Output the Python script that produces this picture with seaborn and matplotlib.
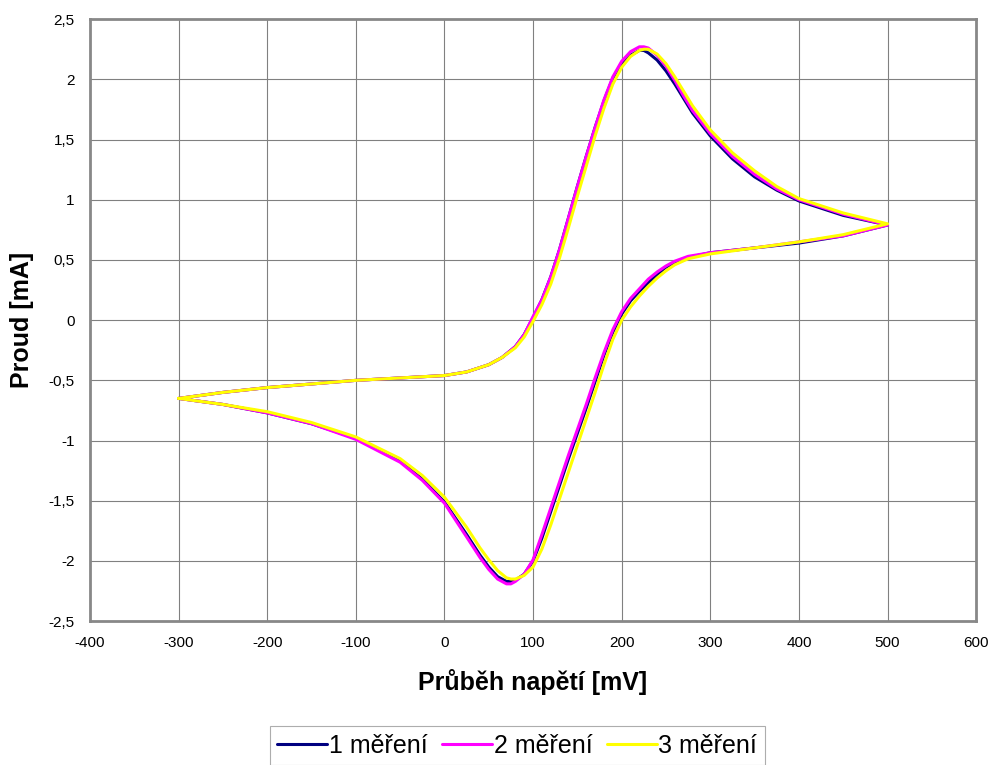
import pandas as pd
import matplotlib
matplotlib.use('Agg')
import matplotlib.pyplot as plt
import seaborn as sns

# Potential sweep: forward (-300 -> 500 mV) then reverse (500 -> -300 mV)
e_forward = [-300, -250, -200, -150, -100, -50, 0, 25, 50, 65, 80, 90, 100, 110, 120, 130,
             140, 150, 160, 170, 180, 190, 200, 210, 220, 225, 230, 240, 250, 260, 270, 280,
             300, 325, 350, 375, 400, 450, 500]
e_reverse = [500, 450, 400, 350, 300, 275, 260, 250, 240, 230, 220, 210, 200, 190, 180, 170,
             160, 150, 140, 130, 120, 110, 100, 90, 80, 75, 70, 60, 50, 40, 25, 0, -25, -50,
             -100, -150, -200, -250, -300]

# Current [mA], measurement 1
i1_forward = [-0.65, -0.60, -0.56, -0.53, -0.50, -0.48, -0.46, -0.43, -0.37, -0.31, -0.22, -0.12,
              0.02, 0.17, 0.36, 0.59, 0.85, 1.11, 1.36, 1.60, 1.82, 2.01, 2.13, 2.20, 2.24, 2.24,
              2.22, 2.16, 2.07, 1.96, 1.84, 1.72, 1.53, 1.34, 1.19, 1.08, 0.99, 0.87, 0.79]
i1_reverse = [0.79, 0.70, 0.64, 0.60, 0.56, 0.52, 0.48, 0.44, 0.38, 0.31, 0.24, 0.16, 0.05, -0.10,
              -0.29, -0.51, -0.73, -0.94, -1.15, -1.37, -1.59, -1.81, -2.00, -2.11, -2.16, -2.17,
              -2.17, -2.13, -2.05, -1.95, -1.78, -1.51, -1.32, -1.17, -0.98, -0.86, -0.77, -0.70,
              -0.65]

# measurement 2
i2_forward = [-0.65, -0.60, -0.56, -0.53, -0.50, -0.48, -0.46, -0.43, -0.37, -0.31, -0.22, -0.12,
              0.03, 0.17, 0.36, 0.59, 0.85, 1.11, 1.36, 1.60, 1.83, 2.02, 2.15, 2.23, 2.27, 2.27,
              2.26, 2.20, 2.11, 1.99, 1.86, 1.74, 1.55, 1.36, 1.21, 1.09, 1.00, 0.88, 0.79]
i2_reverse = [0.79, 0.70, 0.65, 0.60, 0.56, 0.53, 0.49, 0.45, 0.40, 0.34, 0.26, 0.18, 0.07, -0.08,
              -0.27, -0.48, -0.70, -0.91, -1.12, -1.34, -1.56, -1.78, -1.99, -2.11, -2.17, -2.19,
              -2.19, -2.15, -2.07, -1.97, -1.80, -1.52, -1.33, -1.18, -0.99, -0.86, -0.77, -0.70,
              -0.65]

# measurement 3
i3_forward = [-0.65, -0.60, -0.56, -0.53, -0.50, -0.48, -0.46, -0.43, -0.37, -0.31, -0.23, -0.14,
              -0.01, 0.13, 0.30, 0.52, 0.77, 1.03, 1.28, 1.53, 1.76, 1.96, 2.10, 2.19, 2.24, 2.25,
              2.25, 2.21, 2.13, 2.02, 1.90, 1.78, 1.58, 1.39, 1.24, 1.11, 1.01, 0.89, 0.80]
i3_reverse = [0.80, 0.71, 0.65, 0.60, 0.55, 0.51, 0.46, 0.41, 0.35, 0.28, 0.20, 0.11, 0.00, -0.16,
              -0.37, -0.60, -0.82, -1.04, -1.26, -1.48, -1.70, -1.90, -2.05, -2.12, -2.15, -2.15,
              -2.14, -2.08, -1.99, -1.89, -1.72, -1.47, -1.29, -1.15, -0.97, -0.85, -0.76, -0.70,
              -0.65]

series_names = ['1 měření', '2 měření', '3 měření']
series_colors = ['#000080', '#FF00FF', '#FFFF00']
x_ticks = [-400, -300, -200, -100, 0, 100, 200, 300, 400, 500, 600]
y_ticks = [-2.5, -2, -1.5, -1, -0.5, 0, 0.5, 1, 1.5, 2, 2.5]
y_tick_labels = ['-2,5', '-2', '-1,5', '-1', '-0,5', '0', '0,5', '1', '1,5', '2', '2,5']

# Build one long table, keeping the sweep order
rows = []
for name, fwd, rev in zip(series_names,
                          [i1_forward, i2_forward, i3_forward],
                          [i1_reverse, i2_reverse, i3_reverse]):
    for e, i in zip(e_forward + e_reverse, fwd + rev):
        rows.append({'Napětí': e, 'Proud': i, 'Měření': name})
df = pd.DataFrame(rows)

sns.set_style('white')
plt.rcParams['font.family'] = ['Liberation Sans', 'DejaVu Sans']
plt.rcParams['text.color'] = 'black'
plt.rcParams['axes.labelcolor'] = 'black'
plt.rcParams['xtick.color'] = 'black'
plt.rcParams['ytick.color'] = 'black'

fig = plt.figure(figsize=(9.91, 7.65), dpi=100)
ax = fig.add_axes([0.0908, 0.188, 0.8942, 0.787])

sns.lineplot(data=df, x='Napětí', y='Proud', hue='Měření', palette=series_colors,
             sort=False, estimator=None, linewidth=2.2, ax=ax)

ax.set_xlim(-400, 600)
ax.set_ylim(-2.5, 2.5)
ax.set_xticks(x_ticks)
ax.set_xticklabels([str(t) for t in x_ticks])
ax.set_yticks(y_ticks)
ax.set_yticklabels(y_tick_labels)
ax.tick_params(axis='x', length=0, labelsize=11, pad=11)
ax.tick_params(axis='y', length=0, labelsize=11, pad=11)
ax.grid(True, color='#808080', linewidth=0.8)
ax.set_axisbelow(True)
for spine in ax.spines.values():
    spine.set_color('#888888')
    spine.set_linewidth(2)

ax.set_xlabel('Průběh napětí [mV]', fontsize=18, fontweight='bold')
ax.set_ylabel('Proud [mA]', fontsize=18, fontweight='bold')
ax.xaxis.set_label_coords(0.5, -0.08)
ax.yaxis.set_label_coords(-0.063, 0.5)

ax.legend_.remove()
handles, labels = ax.get_legend_handles_labels()
leg = fig.legend(handles, labels, loc='upper center', bbox_to_anchor=(0.522, 0.067), ncol=3,
                 fontsize=18, frameon=True, fancybox=False, handlelength=2.0,
                 handletextpad=0.05, columnspacing=0.6, borderpad=0.3)
leg.get_frame().set_edgecolor('#999999')
leg.get_frame().set_linewidth(0.8)

fig.savefig('out.png', dpi=100)
